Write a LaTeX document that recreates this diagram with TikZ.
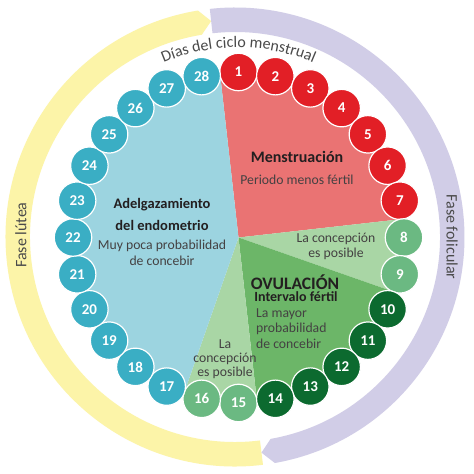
\documentclass[tikz,border=0pt]{standalone}
\usepackage{fontspec}
\setmainfont{Carlito}
\usetikzlibrary{decorations.text,calc}
\definecolor{pieRed}{HTML}{EA7373}
\definecolor{dayRed}{HTML}{E21F26}
\definecolor{pieBlue}{HTML}{9CD4E0}
\definecolor{dayBlue}{HTML}{3AAEC4}
\definecolor{pieLG}{HTML}{A9D6A5}
\definecolor{dayMG}{HTML}{6BB982}
\definecolor{pieG}{HTML}{6CB668}
\definecolor{dayDG}{HTML}{0C6A2F}
\definecolor{ylw}{HTML}{FCF4A8}
\definecolor{lav}{HTML}{D1CDE7}
\definecolor{txtdark}{HTML}{231F20}
\definecolor{txtgray}{HTML}{4A4A4A}
\tikzset{
  daycirc/.style={circle, draw=white, line width=1.2pt, minimum size=37.5pt, inner sep=0pt,
    text=white, font=\fontsize{15}{15}\selectfont\bfseries},
  title/.style={inner sep=0pt, text=txtdark, font=\fontsize{14.5}{16}\selectfont\bfseries},
  body/.style={inner sep=0pt, text=txtdark!85, font=\fontsize{13.7}{15}\selectfont},
  phase/.style={inner sep=0pt, text=txtgray, font=\fontsize{16}{18}\selectfont}
}
\begin{document}
\begin{tikzpicture}[x=1pt,y=1pt]
\useasboundingbox (0,0) rectangle (474,474);
\fill[white] (0,0) rectangle (474,474);
% outer phase arrows
\begin{scope}[shift={(235,237)}]
\fill[ylw] (277:229.5pt) arc[start angle=277, end angle=99.3, radius=229.5pt]
  -- (96.3:217.25pt) -- (99.3:205pt) arc[start angle=99.3, end angle=277, radius=205pt] -- cycle;
\fill[lav] (96.3:229.5pt) arc[start angle=96.3, end angle=-80, radius=229.5pt]
  -- (-83:217.25pt) -- (-80:205pt) arc[start angle=-80, end angle=96.3, radius=205pt] -- cycle;
\end{scope}
\node[phase, rotate=90] (lutea) at (21,239) {Fase lútea};
\node[phase, rotate=-90] (folic) at (452,237) {Fase folicular};
% pie
\begin{scope}[shift={(238.5,236.5)}]
\fill[pieRed] (0,0) -- (6.43:163pt) arc[start angle=6.43, end angle=96.43, radius=163pt] -- cycle;
\fill[pieLG] (0,0) -- (-19.29:163pt) arc[start angle=-19.29, end angle=6.43, radius=163pt] -- cycle;
\fill[pieG] (0,0) -- (-83.57:163pt) arc[start angle=-83.57, end angle=-19.29, radius=163pt] -- cycle;
\fill[pieLG] (0,0) -- (-109.29:163pt) arc[start angle=-109.29, end angle=-83.57, radius=163pt] -- cycle;
\fill[pieBlue] (0,0) -- (96.43:163pt) arc[start angle=96.43, end angle=250.71, radius=163pt] -- cycle;
\path[decorate, decoration={text along path, text={|\fontsize{16}{18}\selectfont|Días del ciclo menstrual},
  text align=center, text color=txtgray}]
  (140:190pt) arc[start angle=140, end angle=40, radius=190pt];
\foreach \k in {1,...,7} {
  \pgfmathsetmacro\ang{90-(\k-1)*360/28}
  \node[daycirc, fill=dayRed] (c\k) at (\ang:165.5pt) {\k};
}
\foreach \k in {8,9,15,16} {
  \pgfmathsetmacro\ang{90-(\k-1)*360/28}
  \node[daycirc, fill=dayMG] (c\k) at (\ang:165.5pt) {\k};
}
\foreach \k in {10,...,14} {
  \pgfmathsetmacro\ang{90-(\k-1)*360/28}
  \node[daycirc, fill=dayDG] (c\k) at (\ang:165.5pt) {\k};
}
\foreach \k in {17,...,28} {
  \pgfmathsetmacro\ang{90-(\k-1)*360/28}
  \node[daycirc, fill=dayBlue] (c\k) at (\ang:165.5pt) {\k};
}
\end{scope}
% texts
\node[title, font=\fontsize{16}{18}\selectfont\bfseries] (mens) at (297,317) {Menstruación};
\node[body] (mens2) at (297,294) {Periodo menos fértil};
\node[title] (adel) at (162,269) {Adelgazamiento};
\node[title] (adel2) at (162,249) {del endometrio};
\node[body] (adel3) at (162,228) {Muy poca probabilidad};
\node[body] (adel4) at (162,213) {de concebir};
\node[body] (conA1) at (336,235) {La concepción};
\node[body] (conA2) at (336,220) {es posible};
\node[title, font=\fontsize{17.5}{18}\selectfont\bfseries] (ovu) at (295,192) {OVULACIÓN};
\node[title, font=\fontsize{14}{14}\selectfont\bfseries] (ovu2) at (296,177) {Intervalo fértil};
\node[body, anchor=west] (ovu3) at (256,160) {La mayor};
\node[body, anchor=west] (ovu4) at (256,145) {probabilidad};
\node[body, anchor=west] (ovu5) at (256,130) {de concebir};
\node[body] (conB1) at (225,130) {La};
\node[body] (conB2) at (225,115) {concepción};
\node[body] (conB3) at (225,101) {es posible};
\end{tikzpicture}
\end{document}
